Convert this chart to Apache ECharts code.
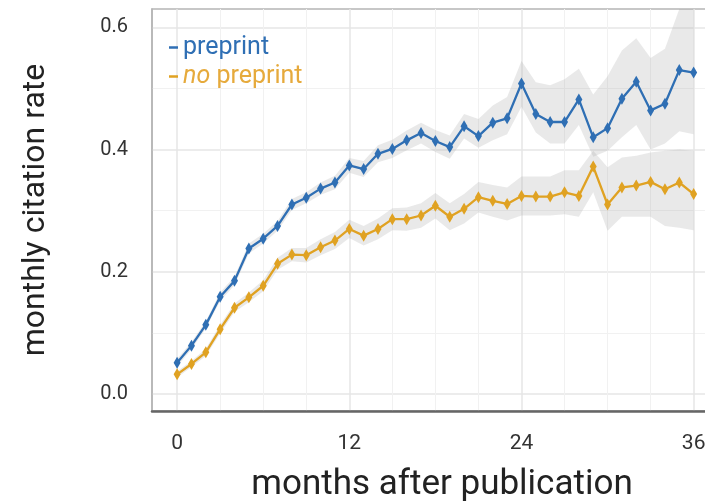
<!DOCTYPE html>
<html>
<head>
<meta charset="utf-8">
<script src="https://cdn.jsdelivr.net/npm/echarts@6/dist/echarts.min.js"></script>
<style>
  html, body { margin: 0; padding: 0; background: #fff; }
  #chart { width: 705px; height: 503px; }
</style>
</head>
<body>
<div id="chart"></div>
<script>
const months = [0,1,2,3,4,5,6,7,8,9,10,11,12,13,14,15,16,17,18,19,20,21,22,23,24,25,26,27,28,29,30,31,32,33,34,35,36];

const preprint = [0.051,0.079,0.113,0.159,0.185,0.238,0.254,0.275,0.310,0.321,0.336,0.346,0.374,0.368,0.393,0.401,0.415,0.427,0.414,0.404,0.438,0.422,0.444,0.451,0.508,0.458,0.445,0.445,0.482,0.420,0.435,0.483,0.511,0.464,0.475,0.530,0.526];
const preprintLo = [0.045,0.073,0.107,0.152,0.178,0.230,0.246,0.267,0.301,0.312,0.326,0.335,0.362,0.355,0.379,0.386,0.399,0.410,0.396,0.385,0.418,0.403,0.415,0.425,0.470,0.428,0.410,0.410,0.440,0.388,0.398,0.420,0.440,0.400,0.410,0.430,0.425];
const preprintHi = [0.057,0.085,0.119,0.166,0.192,0.246,0.262,0.283,0.319,0.330,0.346,0.357,0.386,0.381,0.407,0.416,0.431,0.444,0.432,0.423,0.458,0.450,0.472,0.486,0.545,0.510,0.505,0.515,0.532,0.490,0.520,0.562,0.582,0.550,0.565,0.660,0.680];

const noPreprint = [0.032,0.049,0.068,0.106,0.141,0.158,0.177,0.213,0.228,0.227,0.240,0.251,0.270,0.259,0.270,0.286,0.286,0.292,0.308,0.290,0.303,0.322,0.316,0.311,0.324,0.323,0.323,0.330,0.324,0.372,0.310,0.338,0.341,0.347,0.335,0.346,0.327];
const noPreprintLo = [0.027,0.044,0.062,0.099,0.134,0.150,0.168,0.203,0.217,0.215,0.227,0.237,0.255,0.243,0.253,0.268,0.267,0.272,0.287,0.268,0.279,0.297,0.290,0.284,0.292,0.292,0.292,0.294,0.290,0.330,0.267,0.290,0.290,0.290,0.275,0.272,0.268];
const noPreprintHi = [0.037,0.054,0.074,0.113,0.148,0.166,0.186,0.223,0.239,0.239,0.253,0.265,0.285,0.275,0.287,0.304,0.305,0.312,0.329,0.312,0.327,0.347,0.342,0.338,0.356,0.356,0.356,0.366,0.366,0.398,0.371,0.387,0.390,0.395,0.398,0.400,0.398];

const xLabels = [0, 12, 24, 36];
const xMinorGrid = [3, 6, 9, 15, 18, 21, 27, 30, 33];
const yLabels = [0, 0.2, 0.4, 0.6];
const yMinorGrid = [0.1, 0.3, 0.5];

const BLUE = "#2f6fb4";
const ORANGE = "#e0a222";

function pairs(ys) {
  return months.map((m, i) => [m, ys[i]]);
}

// confidence ribbon: one polygon built from all rows, placed with api.coord
function band(name, lo, hi) {
  return {
    name: name,
    type: "custom",
    silent: true,
    z: 1,
    data: months.map((m, i) => [m, lo[i], hi[i]]),
    renderItem: function(params, api) {
      if (params.dataIndex !== 0) return null;
      const cs = params.coordSys;
      const top = cs.y, bottom = cs.y + cs.height;
      const clampY = p => [p[0], Math.max(top, Math.min(bottom, p[1]))];
      const upper = [], lower = [];
      for (let i = 0; i < months.length; i++) {
        upper.push(clampY(api.coord([months[i], hi[i]])));
        lower.push(clampY(api.coord([months[i], lo[i]])));
      }
      return {
        type: "polygon",
        shape: { points: upper.concat(lower.reverse()) },
        style: { fill: "rgba(165,165,165,0.24)" }
      };
    }
  };
}

function mainLine(name, ys, color) {
  return {
    name: name,
    type: "line",
    data: pairs(ys),
    color: color,
    symbol: "diamond",
    symbolSize: [7, 12],
    itemStyle: { color: color },
    lineStyle: { color: color, width: 2.3 },
    z: 5
  };
}

function getChartOption() {
  const gridLineMajor = "#e6e6e6";
  const gridLineMinor = "#f1f1f1";
  return {
    animation: false,
    textStyle: { fontFamily: "Roboto" },
    grid: {
      left: 152,
      right: -3,
      top: 9,
      bottom: 92,
      outerBoundsMode: "none",
      containLabel: false,
      show: true,
      borderColor: "#b5b5b5",
      borderWidth: 1.5
    },
    legend: {
      data: ["preprint", "no preprint"],
      orient: "vertical",
      left: 164,
      top: 30,
      itemGap: 4,
      icon: "rect",
      itemWidth: 9,
      itemHeight: 2.5,
      formatter: function(name) {
        return name === "no preprint" ? "{i|no} preprint" : name;
      },
      textStyle: {
        fontSize: 25,
        color: "inherit",
        rich: { i: { fontStyle: "italic", fontSize: 25, color: "#e6aa3c" } }
      }
    },
    xAxis: [
      {
        type: "value",
        min: -1.75,
        max: 37,
        name: "months after publication",
        nameLocation: "middle",
        nameGap: 57,
        nameTextStyle: { fontSize: 35, color: "#222", padding: [0, 0, 0, 24] },
        axisLine: { show: true, onZero: false, lineStyle: { color: "#666", width: 2.5 } },
        axisTick: { show: false, customValues: xLabels },
        axisLabel: { customValues: xLabels, fontSize: 21, color: "#333", margin: 22 },
        splitLine: { show: true, lineStyle: { color: gridLineMajor, width: 1.5 } }
      },
      {
        type: "value",
        min: -1.75,
        max: 37,
        position: "bottom",
        axisLine: { show: false },
        axisTick: { show: false, customValues: xMinorGrid },
        axisLabel: { show: false },
        splitLine: { show: true, lineStyle: { color: gridLineMinor, width: 1 } }
      }
    ],
    yAxis: [
      {
        type: "value",
        min: -0.028,
        max: 0.63,
        name: "monthly citation rate",
        nameLocation: "middle",
        nameGap: 100,
        nameTextStyle: { fontSize: 32, color: "#222" },
        axisLine: { show: true, onZero: false, lineStyle: { color: "#b5b5b5", width: 1.5 } },
        axisTick: { show: false, customValues: yLabels },
        axisLabel: {
          customValues: yLabels,
          fontSize: 20,
          color: "#333",
          margin: 24,
          formatter: v => v.toFixed(1)
        },
        splitLine: { show: true, lineStyle: { color: gridLineMajor, width: 1.5 } }
      },
      {
        type: "value",
        min: -0.028,
        max: 0.63,
        position: "left",
        axisLine: { show: false },
        axisTick: { show: false, customValues: yMinorGrid },
        axisLabel: { show: false },
        splitLine: { show: true, lineStyle: { color: gridLineMinor, width: 1 } }
      }
    ],
    series: [
      band("preprint-ci", preprintLo, preprintHi),
      band("no-preprint-ci", noPreprintLo, noPreprintHi),
      mainLine("preprint", preprint, BLUE),
      mainLine("no preprint", noPreprint, ORANGE)
    ]
  };
}

const chart = echarts.init(document.getElementById("chart"));
chart.setOption(getChartOption());
</script>
</body>
</html>
